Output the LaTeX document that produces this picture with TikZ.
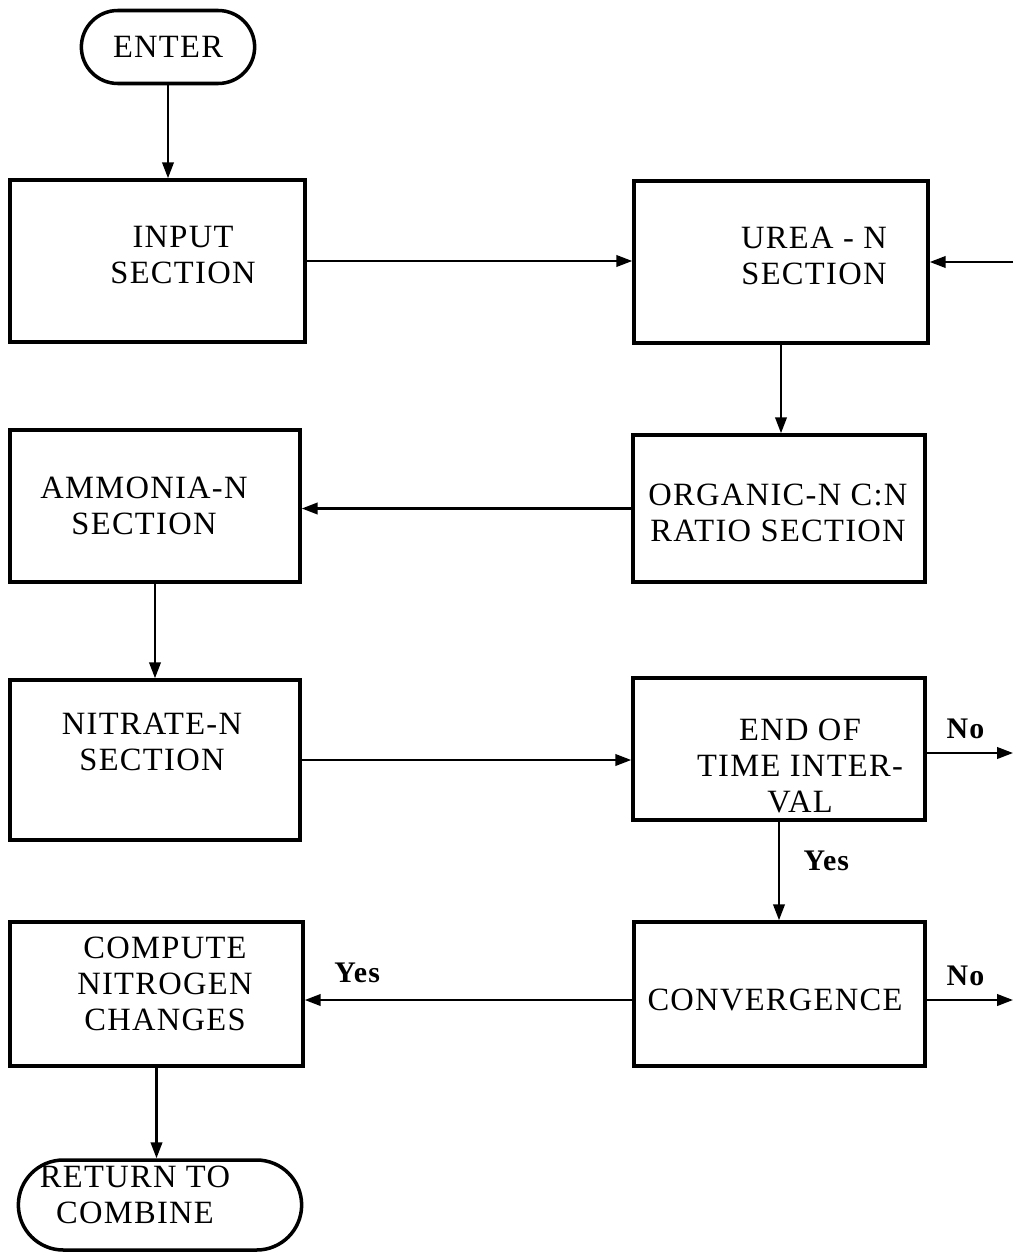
\documentclass[tikz,border=0pt]{standalone}
\usepackage{fontspec}
\setmainfont[LetterSpace=4]{Liberation Serif}
\usetikzlibrary{shapes.misc,arrows.meta,positioning}

\begin{document}
\begin{tikzpicture}[
  blk/.style={draw, line width=2pt, minimum width=5.85cm, minimum height=3.1cm},
  term/.style={draw, line width=2pt, rounded rectangle},
  txt/.style={align=center, font=\fontsize{18.5}{20.5}\selectfont},
  lbl/.style={font=\fontsize{17}{18}\selectfont\bfseries},
  flow/.style={-{Triangle[length=9pt,width=6.5pt]}, line width=1.3pt}
]
\useasboundingbox (0,0) rectangle (20.26,-25.18);

% --- left column ---
\node[term, minimum width=3.7cm, minimum height=1.46cm] (enter) at (3.36,-0.94) {};
\node[txt] (enter_t) at (enter.center) {ENTER};
\node[blk, minimum width=5.9cm, minimum height=3.24cm] (input) at (3.15,-5.22) {};
\node[txt] (input_t) at (3.66,-5.1) {INPUT\\SECTION};
\node[blk, minimum width=5.8cm, minimum height=3.04cm] (ammonia) at (3.1,-10.12) {};
\node[txt] (ammonia_t) at (2.88,-10.12) {AMMONIA-N\\SECTION};
\node[blk, minimum width=5.8cm, minimum height=3.2cm] (nitrate) at (3.1,-15.2) {};
\node[txt] (nitrate_t) at (3.04,-14.84) {NITRATE-N\\SECTION};
\node[blk, minimum width=5.86cm, minimum height=2.88cm] (compute) at (3.13,-19.88) {};
\node[txt] (compute_t) at (3.3,-19.68) {COMPUTE\\NITROGEN\\CHANGES};
\node[term, minimum width=5.9cm, minimum height=1.8cm] (return) at (3.2,-24.1) {};
\node[txt] (return_t) at (2.7,-23.9) {RETURN TO\\COMBINE};

% --- right column ---
\node[blk, minimum width=5.88cm, minimum height=3.24cm] (urea) at (15.62,-5.24) {};
\node[txt] (urea_t) at (16.28,-5.12) {UREA - N\\SECTION};
\node[blk, minimum width=5.84cm, minimum height=2.94cm] (organic) at (15.58,-10.17) {};
\node[txt] (organic_t) at (15.56,-10.26) {ORGANIC-N C:N\\RATIO SECTION};
\node[blk, minimum width=5.84cm, minimum height=2.84cm] (endint) at (15.58,-14.98) {};
\node[txt] (endint_t) at (16.0,-15.32) {END OF\\TIME INTER-\\VAL};
\node[blk, minimum width=5.82cm, minimum height=2.88cm] (conv) at (15.59,-19.88) {};
\node[txt] (conv_t) at (15.5,-20.0) {CONVERGENCE};

% loose ends at the right edge
\coordinate (ureain) at (20.26,-5.24);
\coordinate (endno) at (20.26,-15.06);
\coordinate (convno) at (20.26,-20.0);

% Flow arrows
\draw[flow] (enter.south) -- (enter.south |- input.north);
\draw[flow] (input.east) -- (input.east -| urea.west);
\draw[flow] (ureain) -- (urea.east);
\draw[flow] (urea.south) -- (urea.south |- organic.north);
\draw[flow] (organic.west) -- (organic.west -| ammonia.east);
\draw[flow] (ammonia.south) -- (ammonia.south |- nitrate.north);
\draw[flow] (nitrate.east) -- (nitrate.east -| endint.west);
\draw[flow] (endint.east |- endno) -- (endno) node[lbl, pos=0.45, above=4pt] {No};
\draw[flow] (endint.south) -- (endint.south |- conv.north) node[lbl, pos=0.4, right=10pt] {Yes};
\draw[flow] (conv.west |- convno) -- (compute.east |- convno) node[lbl, pos=0.84, above=6pt] {Yes};
\draw[flow] (conv.east |- convno) -- (convno) node[lbl, pos=0.45, above=4pt] {No};
\draw[flow] (compute.south) -- (compute.south |- return.north);
\end{tikzpicture}
\end{document}
